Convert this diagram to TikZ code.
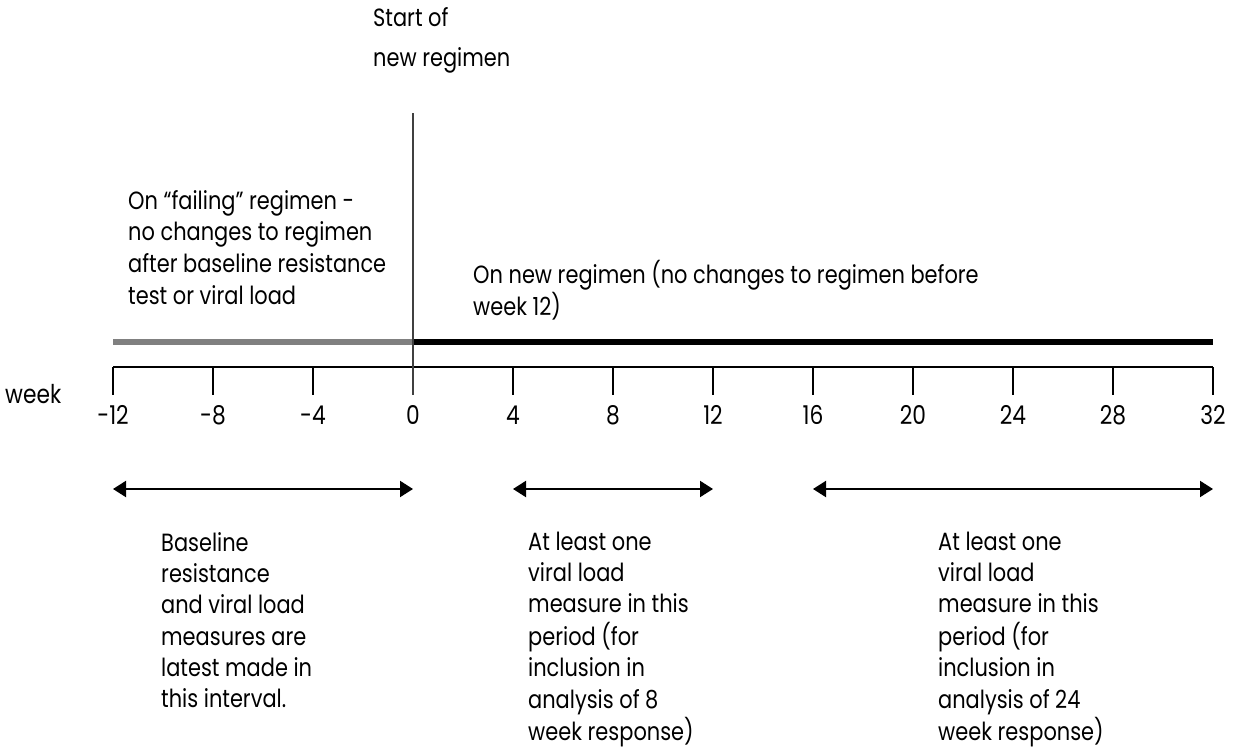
\documentclass[tikz,border=0pt]{standalone}
\usepackage{fontspec}
\setmainfont{Poppins}[FakeStretch=0.84]
\usetikzlibrary{arrows.meta}
\begin{document}
\begin{tikzpicture}[x=1bp,y=-1bp,
  txt/.style={font=\fontsize{25}{31.5}\selectfont, inner sep=0, anchor=base west},
  ticklbl/.style={font=\fontsize{26}{28}\selectfont, inner sep=0, anchor=base},
  axisline/.style={line width=2bp},
  spanarrow/.style={line width=2bp, {Triangle[length=13bp,width=16bp]}-{Triangle[length=13bp,width=16bp]}},
]
\useasboundingbox (0,0) rectangle (1236,753);
% bars
\coordinate (g0) at (113,342);
\coordinate (g1) at (413,342);
\coordinate (k1) at (1213,342);
\draw[line width=6bp, color=black!50] (g0) -- (g1);
\draw[line width=6bp, color=black] (g1) -- (k1);
% ticks and labels
\foreach \w in {-12,-8,...,32} {
  \coordinate (t\w) at ({413+25*\w},367);
  \coordinate (b\w) at ({413+25*\w},395);
  \draw[axisline] (t\w) -- (b\w);
  \node[ticklbl] (l\w) at ({413+25*\w},424) {\w};
}
\draw[axisline] (t-12) -- (t32);
% start line
\coordinate (vtop) at (413,113);
\draw[line width=1.3bp, color=black!75] (vtop) -- (b0);
\node[txt, font=\fontsize{26}{26}\selectfont] (wk) at (5,403) {week};
% texts
\node[txt, font=\fontsize{25}{40}\selectfont] (start) at (373,27)
  {\begin{tabular}[t]{@{}l@{}}Start of\\ new regimen\end{tabular}};
\node[txt, font=\fontsize{25}{32}\selectfont] (fail) at (128,209)
  {\begin{tabular}[t]{@{}l@{}}On “failing” regimen -\\ no changes to regimen\\ after baseline resistance\\ test or viral load\end{tabular}};
\node[txt] (newreg) at (473,283)
  {\begin{tabular}[t]{@{}l@{}}On new regimen (no changes to regimen before\\ week 12)\end{tabular}};
% spans
\coordinate (a1) at (113,489); \coordinate (a2) at (413,489);
\coordinate (a3) at (513,489); \coordinate (a4) at (713,489);
\coordinate (a5) at (813,489); \coordinate (a6) at (1213,489);
\draw[spanarrow] (a1) -- (a2);
\draw[spanarrow] (a3) -- (a4);
\draw[spanarrow] (a5) -- (a6);
\node[txt] (base) at (161,551)
  {\begin{tabular}[t]{@{}l@{}}Baseline\\ resistance\\ and viral load\\ measures are\\ latest made in\\ this interval.\end{tabular}};
\node[txt] (mid) at (528,550)
  {\begin{tabular}[t]{@{}l@{}}At least one\\ viral load\\ measure in this\\ period (for\\ inclusion in\\ analysis of 8\\ week response)\end{tabular}};
\node[txt] (right) at (938,550)
  {\begin{tabular}[t]{@{}l@{}}At least one\\ viral load\\ measure in this\\ period (for\\ inclusion in\\ analysis of 24\\ week response)\end{tabular}};
\end{tikzpicture}
\end{document}
